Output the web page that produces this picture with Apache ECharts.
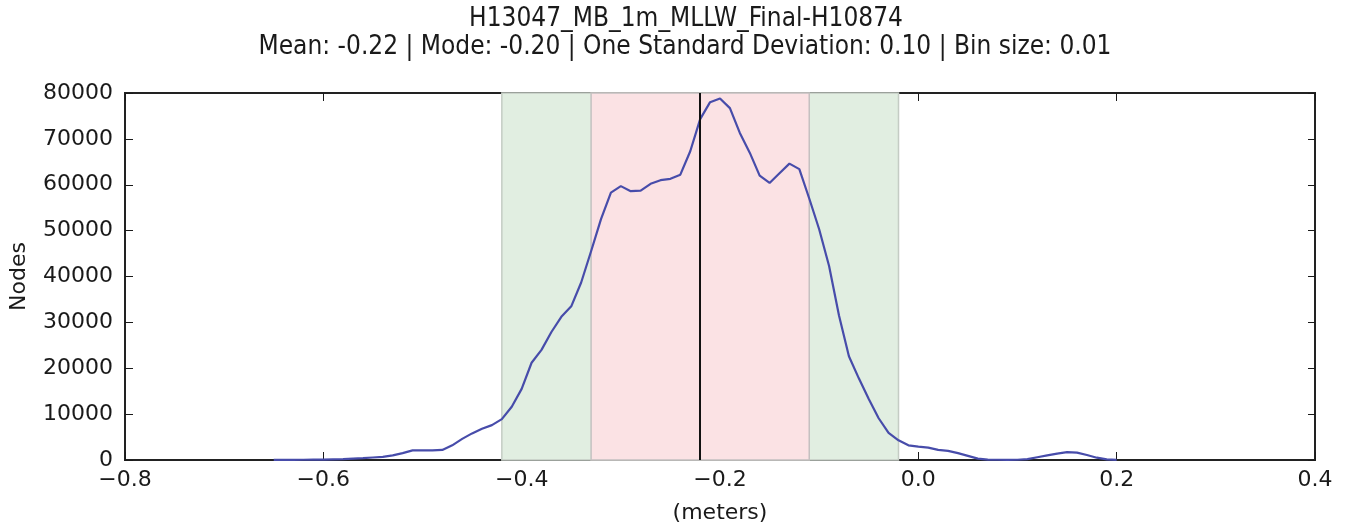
<!DOCTYPE html>
<html>
<head>
<meta charset="utf-8">
<script src="https://cdn.jsdelivr.net/npm/echarts@6/dist/echarts.min.js"></script>
<style>
  html, body { margin: 0; padding: 0; background: #fff; }
  #chart { width: 1348px; height: 529px; }
</style>
</head>
<body>
<div id="chart"></div>
<script>
// bin centres (meters), bin size 0.01
var binCenters = [
  -0.65, -0.64, -0.63, -0.62, -0.61, -0.60, -0.59, -0.58, -0.57, -0.56,
  -0.55, -0.54, -0.53, -0.52, -0.51, -0.50, -0.49, -0.48, -0.47, -0.46,
  -0.45, -0.44, -0.43, -0.42, -0.41, -0.40, -0.39, -0.38, -0.37, -0.36,
  -0.35, -0.34, -0.33, -0.32, -0.31, -0.30, -0.29, -0.28, -0.27, -0.26,
  -0.25, -0.24, -0.23, -0.22, -0.21, -0.20, -0.19, -0.18, -0.17, -0.16,
  -0.15, -0.14, -0.13, -0.12, -0.11, -0.10, -0.09, -0.08, -0.07, -0.06,
  -0.05, -0.04, -0.03, -0.02, -0.01, 0.00, 0.01, 0.02, 0.03, 0.04,
  0.05, 0.06, 0.07, 0.08, 0.09, 0.10, 0.11, 0.12, 0.13, 0.14,
  0.15, 0.16, 0.17, 0.18, 0.19, 0.20
]
// node counts per bin
var nodeCounts = [
  20, 30, 40, 50, 80, 100, 150, 200, 300, 400,
  550, 700, 1000, 1500, 2100, 2100, 2100, 2200, 3200, 4600,
  5800, 6800, 7600, 8900, 11600, 15500, 21200, 24000, 27900, 31200,
  33500, 38700, 45500, 52500, 58300, 59700, 58600, 58700, 60200, 61000,
  61300, 62200, 67300, 74300, 78000, 78800, 76700, 71300, 67000, 62000,
  60400, 62500, 64600, 63400, 57000, 50300, 42300, 31500, 22600, 17800,
  13300, 9100, 5900, 4300, 3200, 2900, 2700, 2200, 2000, 1500,
  900, 300, 100, 50, 20, 50, 200, 600, 1000, 1400,
  1700, 1600, 1100, 500, 150, 20
]
var meanValue = -0.22
var oneStdBand = [-0.33, -0.11]
var twoStdBand = [-0.42, -0.02]
var titleText = 'H13047_MB_1m_MLLW_Final-H10874'
var subText = 'Mean: -0.22 | Mode: -0.20 | One Standard Deviation: 0.10 | Bin size: 0.01'

var seriesData = binCenters.map(function(x, i) {
  return [x, nodeCounts[i]]
})

var titleFont = '"DejaVu Sans Condensed", "DejaVu Sans", sans-serif'
var font = '"DejaVu Sans", sans-serif'
var ink = '#1a1a1a'
var chart = echarts.init(document.getElementById('chart'))

function xLabel(v) {
  return v.toFixed(1).replace('-', '\u2212')
}

chart.setOption({
  animation: false,
  backgroundColor: '#fff',
  graphic: [{
    type: 'text',
    x: 686,
    y: 19,
    style: { text: titleText, fill: ink, font: '26px ' + titleFont, textAlign: 'center', textVerticalAlign: 'middle' }
  }, {
    type: 'text',
    x: 685,
    y: 47,
    style: { text: subText, fill: ink, font: '26px ' + titleFont, textAlign: 'center', textVerticalAlign: 'middle' }
  }],
  grid: {
    left: 123,
    right: 33,
    top: 93,
    bottom: 67,
    show: true,
    borderColor: '#222',
    borderWidth: 2
  },
  xAxis: [{
    type: 'value',
    min: -0.8,
    max: 0.4,
    interval: 0.2,
    name: '(meters)',
    nameLocation: 'middle',
    nameGap: 42,
    nameTextStyle: { fontFamily: font, fontSize: 22, color: ink },
    axisLine: { show: false, onZero: false },
    axisTick: { inside: true, length: 8, lineStyle: { color: ink } },
    axisLabel: { formatter: xLabel, fontFamily: font, fontSize: 22, color: ink, margin: 9 },
    splitLine: { show: false }
  }, {
    type: 'value',
    position: 'top',
    min: -0.8,
    max: 0.4,
    interval: 0.2,
    axisLine: { show: false, onZero: false },
    axisTick: { inside: true, length: 8, lineStyle: { color: ink } },
    axisLabel: { show: false },
    splitLine: { show: false }
  }],
  yAxis: [{
    type: 'value',
    min: 0,
    max: 80000,
    interval: 10000,
    name: 'Nodes',
    nameLocation: 'middle',
    nameGap: 95,
    nameTextStyle: { fontFamily: font, fontSize: 22, color: ink },
    axisLine: { show: false, onZero: false },
    axisTick: { inside: true, length: 8, lineStyle: { color: ink } },
    axisLabel: { formatter: function(v) { return String(v) }, fontFamily: font, fontSize: 22, color: ink, margin: 12 },
    splitLine: { show: false }
  }, {
    type: 'value',
    position: 'right',
    min: 0,
    max: 80000,
    interval: 10000,
    axisLine: { show: false, onZero: false },
    axisTick: { inside: true, length: 7, lineStyle: { color: ink } },
    axisLabel: { show: false },
    splitLine: { show: false }
  }],
  series: [{
    name: 'bands',
    type: 'line',
    data: [],
    z: 1,
    markArea: {
      silent: true,
      data: [
        [{ xAxis: twoStdBand[0], itemStyle: { color: '#e1eee1', borderColor: '#c4ccc4', borderWidth: 1.5 } }, { xAxis: twoStdBand[1] }],
        [{ xAxis: oneStdBand[0], itemStyle: { color: '#fbe2e4', borderColor: '#c4c0c0', borderWidth: 1.5 } }, { xAxis: oneStdBand[1] }]
      ]
    }
  }, {
    name: 'Nodes',
    type: 'line',
    data: seriesData,
    z: 3,
    showSymbol: false,
    lineStyle: { color: '#474caa', width: 2.2 },
    itemStyle: { color: '#474caa' },
    markLine: {
      silent: true,
      symbol: 'none',
      label: { show: false },
      lineStyle: { color: '#111', type: 'solid', width: 2 },
      data: [{ xAxis: meanValue }]
    }
  }]
})
</script>
</body>
</html>
